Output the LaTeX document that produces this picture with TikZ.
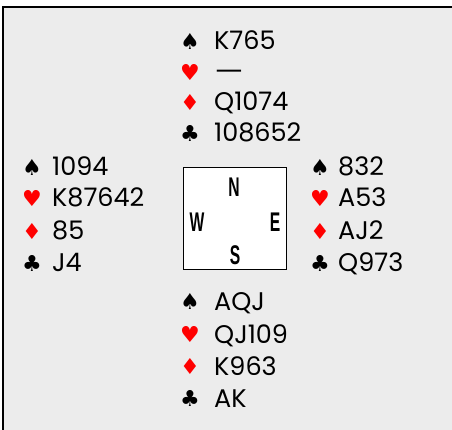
\documentclass[tikz,border=0pt]{standalone}
\usepackage{fontspec}
\setmainfont{Poppins}
\newfontfamily\symfont{DejaVu Sans}
\newfontfamily\cmpfont{Liberation Sans}
\definecolor{bg}{HTML}{ECECEC}
\definecolor{suitred}{HTML}{FF0000}
\tikzset{
  holding/.style={anchor=base west, inner sep=0pt, font=\fontsize{25.5}{25.5}\selectfont},
  suitblk/.style={anchor=center, inner sep=0pt, font=\symfont\fontsize{22}{22}\selectfont},
  suitred/.style={suitblk, text=suitred},
  compass/.style={inner sep=0pt, xscale=0.58, font=\cmpfont\bfseries\fontsize{27}{27}\selectfont},
}
\begin{document}
\begin{tikzpicture}[x=1pt,y=-1pt]
\useasboundingbox (0,0) rectangle (452,430);
\fill[white] (0,0) rectangle (452,430);
\fill[bg] (3,7) rectangle (452,430);
\draw[line width=1.8pt] (3,430) -- (3,7) -- (452,7);
% compass box
\draw[fill=white, line width=0.8pt] (183,167) rectangle (286,269);
\node[compass] (cN) at (234,187) {N};
\node[compass] (cW) at (197,222) {W};
\node[compass] (cE) at (275,222) {E};
\node[compass] (cS) at (235,255) {S};
% North
\node[suitblk] (nS) at (190,41) {♠};
\node[suitred] (nH) at (190,72) {♥};
\node[suitred] (nD) at (190,102) {♦};
\node[suitblk] (nC) at (190,133) {♣};
\node[holding] (nSt) at (214,50) {K765};
\node[holding, xscale=1.3] (nHt) at (214,81) {—};
\node[holding] (nDt) at (214,111) {Q1074};
\node[holding] (nCt) at (214,142) {108652};
% West
\node[suitblk] (wS) at (32,167) {♠};
\node[suitred] (wH) at (32,198) {♥};
\node[suitred] (wD) at (32,231) {♦};
\node[suitblk] (wC) at (32,263) {♣};
\node[holding] (wSt) at (52,176) {1094};
\node[holding] (wHt) at (52,207) {K87642};
\node[holding] (wDt) at (52,240) {85};
\node[holding] (wCt) at (52,272) {J4};
% East
\node[suitblk] (eS) at (320,167) {♠};
\node[suitred] (eH) at (320,198) {♥};
\node[suitred] (eD) at (320,231) {♦};
\node[suitblk] (eC) at (320,263) {♣};
\node[holding] (eSt) at (338,176) {832};
\node[holding] (eHt) at (338,207) {A53};
\node[holding] (eDt) at (338,240) {AJ2};
\node[holding] (eCt) at (338,272) {Q973};
% South
\node[suitblk] (sS) at (190,301) {♠};
\node[suitred] (sH) at (190,334) {♥};
\node[suitred] (sD) at (190,366) {♦};
\node[suitblk] (sC) at (190,398) {♣};
\node[holding] (sSt) at (214,310) {AQJ};
\node[holding] (sHt) at (214,343) {QJ109};
\node[holding] (sDt) at (214,375) {K963};
\node[holding] (sCt) at (214,407) {AK};
\end{tikzpicture}
\end{document}
